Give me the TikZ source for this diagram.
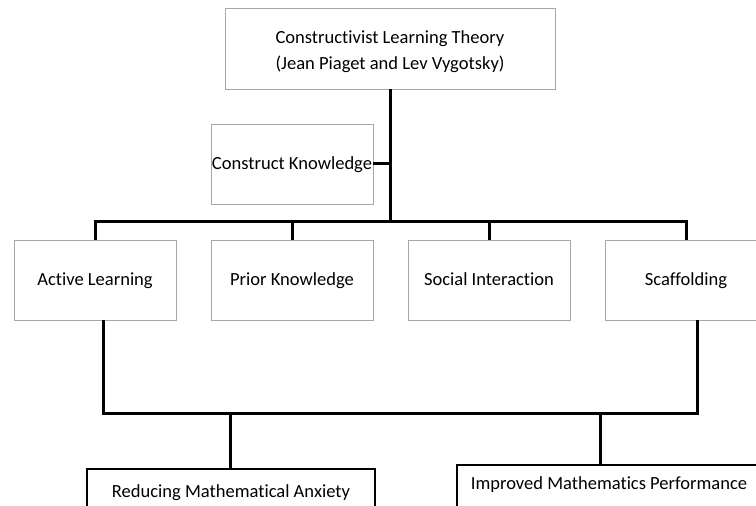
\documentclass[tikz,border=0pt]{standalone}
\usepackage{fontspec}
\setmainfont{Carlito}[Ligatures=NoCommon]
\usetikzlibrary{shadows}
\newcommand{\lowerline}[1]{\raisebox{-3bp}[\height][\depth]{#1}}
\begin{document}
\begin{tikzpicture}[x=1bp,y=-1bp,
  boxbase/.style={draw=black!35, line width=0.8bp, fill=white, rectangle,
     minimum width=162bp, minimum height=80bp, inner sep=0pt, align=center,
     drop shadow={shadow xshift=1.2bp, shadow yshift=-1.2bp, opacity=0.35, fill=black!60}},
  concept/.style={boxbase, font=\fontsize{18.6}{26}\selectfont, text height=13bp, text depth=2bp},
  titlebox/.style={boxbase, font=\fontsize{18.6}{26}\selectfont},
  outcome/.style={draw=black, line width=2.2bp, fill=white, rectangle, anchor=north,
     inner sep=0pt, font=\fontsize{18.6}{22}\selectfont},
  link/.style={draw=black, line width=3bp}]
\useasboundingbox (0,0) rectangle (756,506);
\node[titlebox, minimum width=330bp, minimum height=81bp] (top) at (390,48.5)
  {\lowerline{Constructivist Learning Theory}\\\lowerline{(Jean Piaget and Lev Vygotsky)}};
\node[concept] (construct) at (292,164) {Construct Knowledge};
\node[concept] (active) at (95,280) {Active Learning};
\node[concept] (prior) at (292,280) {Prior Knowledge};
\node[concept] (social) at (489,280) {Social Interaction};
\node[concept] (scaff) at (686,280) {Scaffolding};
\node[outcome, minimum width=288bp, minimum height=80bp, text depth=57bp, text height=28bp] (reduce) at (231,468)
  {Reducing Mathematical Anxiety};
\node[outcome, minimum width=304bp, minimum height=80bp, text depth=61bp, text height=24bp] (improve) at (609,464)
  {Improved Mathematics Performance};
\coordinate (bus) at (0,222);
\coordinate (lowbus) at (0,413);
% upper tree
\draw[link] (top.south) -- (top.south |- bus);
\draw[link] (construct.east) -- (top.south |- construct.east);
\draw[link] (active.north) -- (active.north |- bus) -- (scaff.north |- bus) -- (scaff.north);
\draw[link] (prior.north) -- (prior.north |- bus);
\draw[link] (social.north) -- (social.north |- bus);
% lower tree
\draw[link] ([xshift=8bp]active.south) -- ([xshift=8bp]active.south |- lowbus)
   -- ([xshift=11bp]scaff.south |- lowbus) -- ([xshift=11bp]scaff.south);
\draw[link] ([xshift=-1bp]reduce.north) -- ([xshift=-1bp]reduce.north |- lowbus);
\draw[link] ([xshift=-9bp]improve.north) -- ([xshift=-9bp]improve.north |- lowbus);
\end{tikzpicture}
\end{document}
